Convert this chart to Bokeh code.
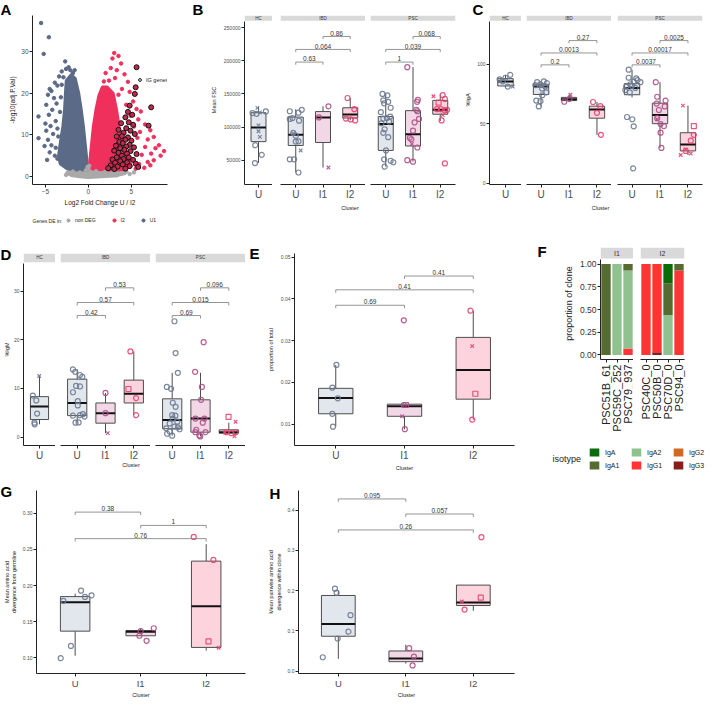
import math
from bokeh.plotting import figure
from bokeh.models import (Range1d, FixedTicker, Label, Legend, LegendItem, GridBox, Spacer,
                          ColumnDataSource, BoxAnnotation, PrintfTickFormatter)
from bokeh.layouts import row, column
from bokeh.core.properties import value, field
from bokeh.embed import file_html
from bokeh.resources import INLINE

FONT = "Liberation Sans"
clusters = ["U", "I1", "I2"]

# ---------------- Panel A (volcano) ----------------
A_grey_core_x = [-2.6, -2.0, -1.0, 0.0, 1.5, 3.0, 4.2, 4.6, 4.0, 2.0, 0.4, 0.0, -0.4, -2.0]
A_grey_core_y = [0.9, 0.2, -0.1, -0.3, -0.1, 0.1, 0.6, 1.2, 1.6, 1.5, 2.3, 2.8, 2.3, 1.7]
A_u1_core_x = [-2.6, -2.0, -1.5, -1.1, -0.8, -0.55, -0.35, -0.2, -0.05, 0.0, -1.2, -2.5, -3.3, -3.5, -3.3, -3.0, -2.8, -2.7]
A_u1_core_y = [23.0, 24.5, 23.5, 20.0, 16.0, 12.0, 8.0, 5.0, 2.2, 1.6, 1.5, 1.8, 3.0, 5.0, 8.0, 12.0, 16.0, 20.0]
A_i2_core_x = [0.05, 0.2, 0.35, 0.55, 0.85, 1.2, 1.6, 2.2, 2.9, 3.3, 3.6, 4.0, 4.6, 5.0, 4.2, 2.0]
A_i2_core_y = [1.8, 5.0, 8.0, 12.0, 16.0, 19.5, 21.5, 21.5, 20.0, 16.0, 12.0, 8.0, 5.0, 2.5, 1.6, 1.5]
A_grey_x = [-2.6, -2.2, -1.8, -1.5, -1.0, -0.6, -0.3, 0.0, 0.2, 0.5, 0.9, 1.4, 1.9, 2.4, 2.9, 3.3, 3.8, 4.3, 4.8, 5.3, 0.1, -0.1]
A_grey_y = [0.4, 0.8, 1.2, 0.5, 1.0, 0.3, 1.5, 2.0, 1.2, 0.4, 1.3, 0.7, 1.1, 0.5, 1.0, 0.3, 0.8, 1.2, 0.6, 1.0, 2.6, 2.3]
A_u1_x = [-5.5, -4.6, -5.2, -2.7, -5.8, -5.8, -4.5, -4.3, -4.7, -4.0, -4.9, -3.9, -3.6, -3.7, -4.2, -4.6, -5.0, -4.4, -3.8, -4.9, -4.1, -3.5, -4.7, -4.3, -3.8, -5.1, -4.5, -3.9, -3.6, -4.8, -3.4, -3.1, -2.6, -2.1, -2.3, -1.8, -3.2, -3.3, -3.6, -3.2, -3.0, -1.6, -3.1, -2.9]
A_u1_y = [36.8, 33.4, 29.4, 27.6, 14.4, 9.2, 21.0, 20.5, 19.6, 18.8, 17.2, 22.5, 21.8, 17.5, 16.0, 14.8, 12.7, 12.1, 13.3, 11.0, 10.2, 9.6, 8.8, 7.5, 6.9, 7.3, 5.8, 5.0, 4.3, 4.0, 24.0, 25.2, 25.8, 25.5, 26.2, 24.8, 19.0, 15.5, 11.5, 6.2, 3.5, 25.5, 22.0, 23.8]
A_i2_x = [3.0, 3.5, 2.8, 3.8, 2.6, 3.3, 2.0, 4.2, 3.1, 2.4, 4.6, 1.8, 3.9, 4.8, 3.5, 5.2, 4.4, 5.6, 6.1, 4.9, 5.8, 6.6, 5.3, 7.2, 6.0, 7.6, 6.9, 5.7, 8.2, 7.8, 6.6, 8.8, 7.3, 6.2, 7.6, 6.9, 5.9, 7.2, 6.5, 5.5, 8.4]
A_i2_y = [29.6, 28.9, 28.3, 27.1, 26.0, 25.5, 24.8, 24.5, 23.6, 23.0, 22.7, 22.8, 21.0, 20.3, 19.6, 18.0, 17.2, 16.2, 15.6, 14.6, 13.7, 12.5, 12.0, 11.1, 10.7, 9.5, 8.9, 9.3, 7.5, 6.8, 7.1, 6.1, 5.5, 5.2, 3.9, 3.5, 3.0, 2.7, 2.1, 1.9, 5.0]
A_ig_x = [5.6, 5.5, 5.4, 7.3, 7.0, 4.8, 4.6, 5.1, 4.3, 4.7, 5.2, 3.8, 4.4, 4.9, 3.5, 4.1, 5.4, 3.9, 4.6, 3.3, 4.3, 5.0, 3.6, 4.0, 4.8, 3.2, 4.4, 5.3, 3.7, 4.2, 4.9, 3.0, 3.5, 4.5, 5.6, 3.9, 4.7, 3.3, 4.1, 5.2, 2.8, 3.7, 4.5, 3.1, 5.5, 4.0, 2.6, 4.8, 3.4, 5.8, 2.3, 4.3, 3.0]
A_ig_y = [26.2, 21.4, 19.8, 16.6, 12.2, 17.0, 15.5, 14.8, 14.2, 13.0, 12.4, 12.8, 11.6, 11.0, 11.2, 10.5, 10.2, 9.7, 9.4, 9.6, 8.8, 8.6, 8.3, 8.0, 7.6, 7.4, 7.2, 7.0, 6.8, 6.4, 6.1, 6.2, 5.7, 5.5, 5.4, 5.0, 4.6, 4.6, 4.2, 4.0, 4.1, 3.7, 3.4, 3.3, 3.1, 2.9, 2.7, 2.5, 2.4, 2.3, 2.0, 1.9, 1.8]
A_legend_labels = ["non DEG", "I2", "U1"]

# ---------------- Panel B (Mean FSC) ----------------
B_HC_U_v = [129000, 121000, 120000, 122000, 123500, 102500, 93600, 85100, 72700, 58000, 45600]
B_HC_U_m = "xooxoxxxooo"
B_HC_U_j = [-0.04, -0.22, -0.07, 0.05, 0.27, 0.0, 0.0, 0.05, -0.12, 0.12, -0.13]
B_HC_U_box = [46000, 78000, 99350, 121570, 130000]
B_IBD_U_v = [123800, 126000, 121600, 112200, 113600, 109600, 91300, 86900, 78000, 78500, 90500, 64700, 51300, 51300, 31400]
B_IBD_U_m = "ooooooooooxxooo"
B_IBD_U_j = [-0.22, 0.22, 0.10, -0.22, -0.12, 0.12, -0.09, 0.0, 0.0, 0.10, -0.09, 0.18, -0.22, -0.06, 0.10]
B_IBD_U_box = [31400, 72200, 88200, 115000, 126900]
B_IBD_I1_v = [131300, 114500, 38900]
B_IBD_I1_m = "oox"
B_IBD_I1_j = [0.2, -0.15, 0.2]
B_IBD_I1_box = [38900, 76700, 114500, 123350, 131300]
B_IBD_I2_v = [143800, 126900, 112700, 110000, 111500]
B_IBD_I2_m = "ooooo"
B_IBD_I2_j = [-0.1, 0.15, -0.16, 0.18, 0.02]
B_IBD_I2_box = [110000, 113600, 118900, 129100, 143800]
B_PSC_U_v = [150000, 147800, 140200, 138000, 135800, 129100, 122500, 115800, 113600, 112700, 108200, 105600, 96700, 91300, 84700, 64700, 51300, 49100, 46900, 40200]
B_PSC_U_m = "oooooooooooooooooooo"
B_PSC_U_j = [-0.12, 0.06, -0.09, 0.09, -0.06, 0.18, -0.18, 0.16, 0.04, -0.09, 0.12, -0.16, -0.04, -0.09, 0.09, 0.01, -0.06, 0.18, 0.28, -0.04]
B_PSC_U_box = [40200, 64700, 104700, 115800, 150400]
B_PSC_I1_v = [190400, 141100, 138000, 126000, 123800, 112200, 106900, 94500, 83800, 81600, 74500, 69100, 50000, 47800]
B_PSC_I1_m = "ooooooooooxooo"
B_PSC_I1_j = [-0.21, 0.18, 0.15, 0.12, 0.16, 0.22, 0.06, 0.0, -0.12, -0.06, -0.04, 0.16, -0.21, 0.0]
B_PSC_I1_box = [47800, 71400, 89100, 124700, 190400]
B_PSC_I2_v = [146500, 148200, 142400, 136700, 126900, 126900, 125100, 126000, 118000, 110000, 45100]
B_PSC_I2_m = "xoosooooxoo"
B_PSC_I2_j = [-0.25, 0.09, 0.17, -0.06, -0.12, 0.02, 0.17, 0.25, 0.09, 0.05, 0.17]
B_PSC_I2_box = [109100, 119300, 126000, 140200, 149100]
B_brk_y = [198000, 217100, 236700]
B_IBD_p = ["0.63", "0.064", "0.86"]
B_PSC_p = ["1", "0.039", "0.068"]

# ---------------- Panel C (%IgA) ----------------
C_HC_U_v = [90.9, 88.5, 87.2, 85.5, 81.1, 81.1]
C_HC_U_m = "ooooox"
C_HC_U_j = [0.17, 0.0, -0.21, -0.1, 0.08, 0.26]
C_HC_U_box = [80.3, 81.6, 85.3, 87.7, 90.9]
C_IBD_U_v = [85.5, 84.8, 84.0, 83.0, 82.3, 81.1, 79.4, 76.2, 73.7, 69.3, 68.8, 64.4]
C_IBD_U_m = "oooooooooooo"
C_IBD_U_j = [0.1, -0.14, 0.21, -0.02, -0.2, 0.15, 0.04, 0.19, 0.04, -0.17, -0.02, -0.08]
C_IBD_U_box = [64.4, 74.4, 81.1, 83.0, 85.5]
C_IBD_I1_v = [74.2, 68.3, 70.8]
C_IBD_I1_m = "xoo"
C_IBD_I1_j = [0.05, -0.17, 0.02]
C_IBD_I1_box = [68.3, 69.3, 70.5, 72.0, 74.2]
C_IBD_I2_v = [68.1, 64.6, 59.0, 40.5]
C_IBD_I2_m = "oooo"
C_IBD_I2_j = [-0.14, 0.12, 0.0, 0.14]
C_IBD_I2_box = [40.5, 54.5, 61.9, 64.6, 68.1]
C_PSC_U_v = [95.3, 88.5, 88.0, 85.3, 86.5, 84.8, 83.0, 81.1, 81.6, 78.1, 76.2, 79.9, 55.5, 53.6, 47.7, 12.3]
C_PSC_U_m = "oooooooooooooooo"
C_PSC_U_j = [-0.12, -0.12, 0.15, 0.06, 0.2, 0.3, -0.06, -0.21, 0.0, -0.24, -0.08, 0.12, -0.18, 0.01, 0.06, 0.04]
C_PSC_U_box = [72.0, 74.2, 79.9, 83.5, 95.3]
C_PSC_I1_v = [84.8, 72.5, 69.3, 66.8, 64.4, 61.4, 54.5, 53.6, 49.6, 47.9, 42.3, 29.5]
C_PSC_I1_m = "oooooooxoooo"
C_PSC_I1_j = [-0.15, -0.1, 0.2, -0.12, 0.17, -0.04, -0.1, -0.1, 0.02, 0.14, 0.02, 0.05]
C_PSC_I1_box = [29.5, 49.9, 57.2, 67.1, 84.8]
C_PSC_I2_v = [65.1, 47.9, 40.5, 35.6, 28.3, 23.6, 24.8, 27.0]
C_PSC_I2_m = "xsooxxxo"
C_PSC_I2_j = [-0.18, 0.21, 0.21, 0.1, -0.08, -0.26, 0.1, -0.08]
C_PSC_I2_box = [23.6, 27.0, 32.4, 42.3, 65.1]
C_brk_y = [99.3, 109.3, 119.7]
C_IBD_p = ["0.2", "0.0013", "0.27"]
C_PSC_p = ["0.0037", "0.00017", "0.0025"]

# ---------------- Panel D (%IgM) ----------------
D_HC_U_v = [12.55, 8.52, 7.52, 4.83, 2.95, 2.62]
D_HC_U_m = "xooooo"
D_HC_U_j = [-0.01, -0.25, -0.12, -0.09, -0.19, -0.18]
D_HC_U_box = [2.62, 3.6, 6.3, 8.3, 12.55]
D_IBD_U_v = [13.9, 13.4, 12.75, 12.35, 10.5, 10.4, 9.2, 7.4, 6.5, 4.4, 4.5, 4.7, 4.2, 2.95, 3.0]
D_IBD_U_m = "ooooooooooooooo"
D_IBD_U_j = [-0.15, -0.07, 0.1, 0.18, -0.04, 0.1, -0.15, 0.02, 0.02, -0.15, 0.1, 0.2, 0.26, -0.06, 0.05]
D_IBD_U_box = [2.95, 4.4, 7.0, 11.9, 13.9]
D_IBD_I1_v = [9.06, 4.9, 0.8]
D_IBD_I1_m = "oox"
D_IBD_I1_j = [0.0, 0.0, 0.08]
D_IBD_I1_box = [0.8, 2.85, 4.9, 7.0, 9.06]
D_IBD_I2_v = [17.6, 9.87, 8.0, 4.5]
D_IBD_I2_m = "osoo"
D_IBD_I2_j = [-0.12, -0.19, 0.08, 0.08]
D_IBD_I2_box = [4.5, 7.0, 8.9, 11.7, 17.6]
D_PSC_U_v = [23.8, 17.25, 13.2, 10.3, 9.9, 7.05, 6.2, 4.5, 4.4, 3.8, 3.15, 2.8, 2.15, 1.8, 2.0, 1.14, 0.67, 0.27, 1.6]
D_PSC_U_m = "ooooooooooooooooooo"
D_PSC_U_j = [0.08, 0.12, 0.2, -0.19, -0.04, 0.02, 0.12, 0.0, 0.11, 0.02, 0.18, -0.09, 0.08, -0.21, 0.2, -0.09, -0.18, 0.0, 0.26]
D_PSC_U_box = [0.27, 1.7, 3.5, 7.85, 13.2]
D_PSC_I1_v = [19.5, 13.4, 10.3, 7.65, 3.8, 3.8, 1.5, 1.0, 1.0, 0.34, 0.13, 2.95]
D_PSC_I1_m = "oooooooooooo"
D_PSC_I1_j = [0.11, -0.19, 0.05, 0.02, -0.18, 0.14, -0.15, -0.18, 0.18, -0.04, -0.01, 0.08]
D_PSC_I1_box = [0.13, 1.0, 3.8, 7.65, 13.2]
D_PSC_I2_v = [4.16, 3.15, 1.0, 0.13, 1.0, 0.94, 0.8]
D_PSC_I2_m = "sxoxoxo"
D_PSC_I2_j = [-0.01, 0.24, -0.09, 0.2, 0.24, -0.13, 0.09]
D_PSC_I2_box = [0.6, 0.8, 1.0, 1.48, 2.95]
D_brk_y = [24.97, 27.65, 30.67]
D_IBD_p = ["0.42", "0.57", "0.53"]
D_PSC_p = ["0.69", "0.015", "0.096"]

# ---------------- Panel E (proportion of total) ----------------
E_U_v = [0.0242, 0.01875, 0.0162, 0.0125, 0.0094]
E_U_m = "ooooo"
E_U_j = [0.01, -0.05, 0.03, -0.05, -0.04]
E_U_box = [0.0094, 0.0125, 0.0163, 0.0186, 0.0242]
E_I1_v = [0.0349, 0.0146, 0.0146, 0.0119, 0.0088]
E_I1_m = "oosxo"
E_I1_j = [-0.01, -0.01, 0.02, -0.035, 0.005]
E_I1_box = [0.0088, 0.0119, 0.0143, 0.0148, 0.0148]
E_I2_v = [0.0372, 0.0287, 0.0173, 0.0111]
E_I2_m = "oxso"
E_I2_j = [-0.04, -0.015, 0.03, -0.015]
E_I2_box = [0.0111, 0.0160, 0.0230, 0.0308, 0.0372]
E_brk_pairs = [(1, 2), (1, 3), (2, 3)]
E_brk_y = [0.0385, 0.0422, 0.0455]
E_brk_p = ["0.69", "0.41", "0.41"]

# ---------------- Panel F (isotype proportions) ----------------
isotypes = ["IgA", "IgA1", "IgA2", "IgG1", "IgG2", "IgG3"]
F_I1_clones = ["PSC51B_61", "PSC59C_252", "PSC79_937"]
F_I1_IgA = [0.0, 0.0, 0.0]
F_I1_IgA1 = [1.0, 0.0, 0.07]
F_I1_IgA2 = [0.0, 1.0, 0.86]
F_I1_IgG1 = [0.0, 0.0, 0.07]
F_I1_IgG2 = [0.0, 0.0, 0.0]
F_I1_IgG3 = [0.0, 0.0, 0.0]
F_I2_clones = ["PSC40C_0", "PSC50B_0", "PSC70D_0", "PSC94_0"]
F_I2_IgA = [0.0, 0.0, 0.21, 0.0]
F_I2_IgA1 = [0.0, 0.0, 0.35, 0.07]
F_I2_IgA2 = [0.0, 0.0, 0.44, 0.0]
F_I2_IgG1 = [1.0, 0.97, 0.0, 0.93]
F_I2_IgG2 = [0.0, 0.0, 0.0, 0.0]
F_I2_IgG3 = [0.0, 0.03, 0.0, 0.0]

# ---------------- Panel G ----------------
G_U_v = [0.179, 0.193, 0.1844, 0.1866, 0.1165, 0.0996]
G_U_m = "oooooo"
G_U_j = [-0.18, 0.09, 0.15, 0.25, -0.065, -0.22]
G_U_box = [0.103, 0.137, 0.177, 0.1848, 0.189]
G_I1_v = [0.1306, 0.1236, 0.141, 0.137]
G_I1_m = "oooo"
G_I1_j = [-0.02, 0.09, 0.2, 0.0]
G_I1_box = [0.1306, 0.1306, 0.1362, 0.1379, 0.141]
G_I2_v = [0.2673, 0.2355, 0.1228, 0.114]
G_I2_m = "oosx"
G_I2_j = [-0.19, 0.11, 0.035, 0.19]
G_I2_box = [0.1101, 0.1145, 0.1714, 0.2339, 0.2573]
G_brk_pairs = [(1, 2), (2, 3), (1, 3)]
G_brk_y = [0.3017, 0.2833, 0.265]
G_brk_p = ["0.38", "1", "0.76"]

# ---------------- Panel H ----------------
H_U_v = [0.205, 0.195, 0.139, 0.098, 0.081, 0.0344]
H_U_m = "oooooo"
H_U_j = [-0.05, -0.025, 0.18, 0.15, -0.01, -0.23]
H_U_box = [0.0304, 0.0866, 0.117, 0.188, 0.200]
H_I1_v = [0.057, 0.036, 0.014]
H_I1_m = "ooo"
H_I1_j = [0.05, 0.12, 0.1]
H_I1_box = [0.0187, 0.0234, 0.0313, 0.050, 0.0655]
H_I2_v = [0.333, 0.173, 0.1825, 0.153]
H_I2_m = "oxso"
H_I2_j = [0.12, -0.17, 0.11, -0.13]
H_I2_box = [0.150, 0.163, 0.1708, 0.2138, 0.2138]
H_brk_pairs = [(1, 2), (2, 3), (1, 3)]
H_brk_y = [0.428, 0.3906, 0.351]
H_brk_p = ["0.095", "0.057", "0.26"]

# ================= styling & helpers =================
MK = {"o": "circle", "x": "x", "s": "square"}
PT = {"U": "#6d7a91", "I1": "#b04e86", "I2": "#e8426f"}
BX = {"U": "#e2e7ee", "I1": "#f2d8e6", "I2": "#fdd3de"}
ISO_COL = {"IgA": "#0b6b0b", "IgA1": "#566b2f", "IgA2": "#8fc28f",
           "IgG1": "#ff3535", "IgG2": "#d2691e", "IgG3": "#8b1c1c"}
STACK = ["IgG3", "IgG2", "IgG1", "IgA2", "IgA1", "IgA"]
AX = "#222222"
GEO = {}


def mkfig(w, h, l, r, t, b, xr, yr, strip=0, gap=0, yaxis=True, xaxis=True):
    ylo, yhi = yr
    fh = h - t - b
    upp = (yhi - ylo) / (fh - strip - gap)
    yend = yhi + (strip + gap) * upp
    p = figure(width=w, height=h, x_range=Range1d(xr[0], xr[1]), y_range=Range1d(ylo, yend),
               min_border_left=l, min_border_right=r, min_border_top=t, min_border_bottom=b,
               x_axis_location="below" if xaxis else None,
               y_axis_location="left" if yaxis else None,
               output_backend="svg", toolbar_location=None)
    p.outline_line_color = None
    p.background_fill_color = "white"
    p.border_fill_color = "white"
    p.xgrid.visible = False
    p.ygrid.visible = False
    for ax in p.axis:
        ax.axis_line_color = AX
        ax.axis_line_width = 1
        ax.major_tick_line_color = AX
        ax.major_tick_out = 3
        ax.major_tick_in = 0
        ax.minor_tick_line_color = None
        ax.major_label_text_font = FONT
        ax.major_label_text_color = "#4d4d4d"
        ax.major_label_standoff = 1
        ax.axis_label_text_font = FONT
        ax.axis_label_text_font_style = "normal"
        ax.axis_label_text_color = AX
        ax.axis_label_standoff = 2
    if yaxis:
        p.yaxis.bounds = (ylo, yhi)
    GEO[p.id] = dict(upp=upp, yhi=yhi, strip=strip, gap=gap, xr=xr)
    return p


def add_strip(p, text, size):
    g = GEO[p.id]
    upp = g["upp"]
    b0 = g["yhi"] + g["gap"] * upp
    t0 = b0 + g["strip"] * upp
    p.add_layout(BoxAnnotation(left=g["xr"][0], right=g["xr"][1], bottom=b0, top=t0,
                               fill_color="#d9d9d9", fill_alpha=1.0, line_color=None))
    p.add_layout(Label(x=(g["xr"][0] + g["xr"][1]) / 2, y=(b0 + t0) / 2, text=text,
                       text_align="center", text_baseline="middle", text_font=FONT,
                       text_font_size=f"{size}px", text_color="#333333"))


def xcats(p, labels, fs):
    p.xaxis.ticker = FixedTicker(ticks=list(range(1, len(labels) + 1)))
    p.xaxis.major_label_overrides = {i + 1: lab for i, lab in enumerate(labels)}
    p.xaxis.major_label_text_font_size = f"{fs}px"


def yaxis_setup(p, ticks, fmt, fs, label=None, lfs=5.5, standoff=2):
    p.yaxis.ticker = FixedTicker(ticks=ticks)
    p.yaxis.formatter = PrintfTickFormatter(format=fmt)
    p.yaxis.major_label_text_font_size = f"{fs}px"
    if label:
        p.yaxis.axis_label = label
        p.yaxis.axis_label_text_font_size = f"{lfs}px"
        p.yaxis.axis_label_standoff = standoff


def group(p, x, box, vals, marks, jit, key, w=0.5):
    lo, q1, med, q3, hi = box
    p.segment(x0=[x, x], y0=[lo, q3], x1=[x, x], y1=[q1, hi], line_color="#4d4d4d", line_width=1)
    p.vbar(x=[x], width=w, bottom=[q1], top=[q3], fill_color=BX[key], line_color="#4d4d4d", line_width=1)
    p.segment(x0=[x - w / 2], y0=[med], x1=[x + w / 2], y1=[med], line_color="#111111", line_width=2)
    src = ColumnDataSource(dict(x=[x + j for j in jit], y=vals, m=[MK[c] for c in marks]))
    p.scatter("x", "y", marker=field("m"), source=src, size=5, fill_color=None,
              line_color=PT[key], line_width=1.2, line_alpha=0.9)


def brackets(p, pairs, ys, labels, fs=6.5):
    upp = GEO[p.id]["upp"]
    tip = 3 * upp
    for (a, b), y, lab in zip(pairs, ys, labels):
        p.segment(x0=[a, a, b], y0=[y, y, y], x1=[b, a, b], y1=[y, y - tip, y - tip],
                  line_color="#7a7a7a", line_width=0.8)
        p.text(x=[(a + b) / 2], y=[y + upp], text=[lab], text_align="center", text_baseline="bottom",
               text_font=value(FONT), text_font_size=value(f"{fs}px"), text_color="#333333")


def style_legend(lg, gw, gh, fs, spacing):
    lg.background_fill_alpha = 0
    lg.border_line_color = None
    lg.padding = 0
    lg.margin = 0
    lg.spacing = spacing
    lg.glyph_width = gw
    lg.glyph_height = gh
    lg.label_height = gh
    lg.label_width = 0
    lg.label_standoff = 3
    lg.label_text_font = FONT
    lg.label_text_font_size = f"{fs}px"
    lg.label_text_color = "#222222"


PAIRS3 = [(1, 2), (1, 3), (2, 3)]

# ================= Panel A =================
A = mkfig(172, 235, 32, 5, 15, 51, (-6.5, 9.2), (-1.9, 38.6))
A.yaxis.bounds = "auto"
A.patch(A_grey_core_x, A_grey_core_y, fill_color="#a9a9a9", line_color="#a9a9a9", line_width=2.5)
A.patch(A_u1_core_x, A_u1_core_y, fill_color="#5b6a86", line_color="#5b6a86", line_width=2.5)
A.patch(A_i2_core_x, A_i2_core_y, fill_color="#f0305c", line_color="#f0305c", line_width=2.5)
src_grey = ColumnDataSource(dict(x=A_grey_x, y=A_grey_y))
src_u1 = ColumnDataSource(dict(x=A_u1_x, y=A_u1_y))
src_i2 = ColumnDataSource(dict(x=A_i2_x, y=A_i2_y))
src_ig = ColumnDataSource(dict(x=A_ig_x, y=A_ig_y))
A.scatter("x", "y", source=src_grey, size=3.5, color="#a9a9a9")
A.scatter("x", "y", source=src_u1, size=3.5, color="#5b6a86")
A.scatter("x", "y", source=src_i2, size=3.5, color="#f0305c")
A.scatter("x", "y", source=src_ig, size=5, fill_color="#c3284d", line_color="#111111", line_width=1)
rig = A.scatter("x", "y", source=src_ig, size=5, fill_color=None, line_color="#111111",
                line_width=1, visible=False)
A.xaxis.ticker = FixedTicker(ticks=[-5, 0, 5])
A.yaxis.ticker = FixedTicker(ticks=[0, 10, 20, 30])
A.xaxis.major_label_text_font_size = "6.5px"
A.yaxis.major_label_text_font_size = "6.5px"
A.xaxis.axis_label = "Log2 Fold Change U / I2"
A.yaxis.axis_label = "-log10(adj.P.Val)"
A.xaxis.axis_label_text_font_size = "6.5px"
A.yaxis.axis_label_text_font_size = "6.5px"
legIG = Legend(items=[LegendItem(label="IG genes", renderers=[rig])], location=(104, 101))
style_legend(legIG, 7, 7, 5.5, 2)
A.add_layout(legIG, "center")

# ================= Panel B =================
B_yr = (13300, 259000)
B_HC = mkfig(100, 235, 72, 0, 2, 41, (0.485, 1.515), B_yr, strip=6, gap=1)
B_IBD = mkfig(93, 235, 8, 0, 2, 41, (0.44, 3.56), B_yr, strip=6, gap=1, yaxis=False)
B_PSC = mkfig(97, 235, 5, 7, 2, 41, (0.44, 3.56), B_yr, strip=6, gap=1, yaxis=False)
for p, s in ((B_HC, "HC"), (B_IBD, "IBD"), (B_PSC, "PSC")):
    add_strip(p, s, 4.5)
yaxis_setup(B_HC, [50000, 100000, 150000, 200000, 250000], "%d", 5, "Mean FSC", 5.5, 4)
xcats(B_HC, ["U"], 10)
xcats(B_IBD, clusters, 10)
xcats(B_PSC, clusters, 10)
BW = 0.55
group(B_HC, 1, B_HC_U_box, B_HC_U_v, B_HC_U_m, B_HC_U_j, "U", BW)
group(B_IBD, 1, B_IBD_U_box, B_IBD_U_v, B_IBD_U_m, B_IBD_U_j, "U", BW)
group(B_IBD, 2, B_IBD_I1_box, B_IBD_I1_v, B_IBD_I1_m, B_IBD_I1_j, "I1", BW)
group(B_IBD, 3, B_IBD_I2_box, B_IBD_I2_v, B_IBD_I2_m, B_IBD_I2_j, "I2", BW)
group(B_PSC, 1, B_PSC_U_box, B_PSC_U_v, B_PSC_U_m, B_PSC_U_j, "U", BW)
group(B_PSC, 2, B_PSC_I1_box, B_PSC_I1_v, B_PSC_I1_m, B_PSC_I1_j, "I1", BW)
group(B_PSC, 3, B_PSC_I2_box, B_PSC_I2_v, B_PSC_I2_m, B_PSC_I2_j, "I2", BW)
brackets(B_IBD, PAIRS3, B_brk_y, B_IBD_p)
brackets(B_PSC, PAIRS3, B_brk_y, B_PSC_p)

# ================= Panel C =================
C_yr = (-1.2, 135.6)
C_HC = mkfig(59, 235, 27, 0, 2, 41, (0.43, 1.57), C_yr, strip=6, gap=1)
C_IBD = mkfig(90, 235, 5, 0, 2, 41, (0.48, 3.52), C_yr, strip=6, gap=1, yaxis=False)
C_PSC = mkfig(95, 235, 6, 4, 2, 41, (0.48, 3.52), C_yr, strip=6, gap=1, yaxis=False)
for p, s in ((C_HC, "HC"), (C_IBD, "IBD"), (C_PSC, "PSC")):
    add_strip(p, s, 4.5)
yaxis_setup(C_HC, [0, 50, 100], "%d", 5, "%IgA", 5.5, 3)
xcats(C_HC, ["U"], 10)
xcats(C_IBD, clusters, 10)
xcats(C_PSC, clusters, 10)
CW = 0.55
group(C_HC, 1, C_HC_U_box, C_HC_U_v, C_HC_U_m, C_HC_U_j, "U", CW)
group(C_IBD, 1, C_IBD_U_box, C_IBD_U_v, C_IBD_U_m, C_IBD_U_j, "U", CW)
group(C_IBD, 2, C_IBD_I1_box, C_IBD_I1_v, C_IBD_I1_m, C_IBD_I1_j, "I1", CW)
group(C_IBD, 3, C_IBD_I2_box, C_IBD_I2_v, C_IBD_I2_m, C_IBD_I2_j, "I2", CW)
group(C_PSC, 1, C_PSC_U_box, C_PSC_U_v, C_PSC_U_m, C_PSC_U_j, "U", CW)
group(C_PSC, 2, C_PSC_I1_box, C_PSC_I1_v, C_PSC_I1_m, C_PSC_I1_j, "I1", CW)
group(C_PSC, 3, C_PSC_I2_box, C_PSC_I2_v, C_PSC_I2_m, C_PSC_I2_j, "I2", CW)
brackets(C_IBD, PAIRS3, C_brk_y, C_IBD_p)
brackets(C_PSC, PAIRS3, C_brk_y, C_PSC_p)

# ================= Panel D =================
D_yr = (-1.74, 35.7)
D_HC = mkfig(55, 238, 21, 0, 18, 25, (0.4, 1.6), D_yr, strip=9, gap=1)
D_IBD = mkfig(95, 238, 5, 0, 18, 25, (0.41, 3.59), D_yr, strip=9, gap=1, yaxis=False)
D_PSC = mkfig(95, 238, 5, 0, 18, 25, (0.41, 3.59), D_yr, strip=9, gap=1, yaxis=False)
for p, s in ((D_HC, "HC"), (D_IBD, "IBD"), (D_PSC, "PSC")):
    add_strip(p, s, 4.5)
yaxis_setup(D_HC, [0, 10, 20, 30], "%d", 5, "%IgM", 5.5, 1)
xcats(D_HC, ["U"], 10)
xcats(D_IBD, clusters, 10)
xcats(D_PSC, clusters, 10)
DW = 0.68
group(D_HC, 1, D_HC_U_box, D_HC_U_v, D_HC_U_m, D_HC_U_j, "U", DW)
group(D_IBD, 1, D_IBD_U_box, D_IBD_U_v, D_IBD_U_m, D_IBD_U_j, "U", DW)
group(D_IBD, 2, D_IBD_I1_box, D_IBD_I1_v, D_IBD_I1_m, D_IBD_I1_j, "I1", DW)
group(D_IBD, 3, D_IBD_I2_box, D_IBD_I2_v, D_IBD_I2_m, D_IBD_I2_j, "I2", DW)
group(D_PSC, 1, D_PSC_U_box, D_PSC_U_v, D_PSC_U_m, D_PSC_U_j, "U", DW)
group(D_PSC, 2, D_PSC_I1_box, D_PSC_I1_v, D_PSC_I1_m, D_PSC_I1_j, "I1", DW)
group(D_PSC, 3, D_PSC_I2_box, D_PSC_I2_v, D_PSC_I2_m, D_PSC_I2_j, "I2", DW)
brackets(D_IBD, PAIRS3, D_brk_y, D_IBD_p)
brackets(D_PSC, PAIRS3, D_brk_y, D_PSC_p)

# ================= Panel E =================
E = mkfig(290, 238, 49, 21, 15, 25, (0.4, 3.6), (0.0049, 0.0509))
yaxis_setup(E, [0.01, 0.02, 0.03, 0.04, 0.05], "%.2f", 5, "proportion of total", 5.5, 4)
xcats(E, clusters, 10)
E.xaxis.axis_label = "Cluster"
E.xaxis.axis_label_text_font_size = "5.5px"
E.xaxis.axis_label_standoff = 1
group(E, 1, E_U_box, E_U_v, E_U_m, E_U_j, "U", 0.5)
group(E, 2, E_I1_box, E_I1_v, E_I1_m, E_I1_j, "I1", 0.5)
group(E, 3, E_I2_box, E_I2_v, E_I2_m, E_I2_j, "I2", 0.5)
brackets(E, E_brk_pairs, E_brk_y, E_brk_p)


# ================= Panel F =================
def ffacet(w, l, r, clones, fr, stext, yaxis):
    p = mkfig(w, 203, l, r, 12, 79, (0.5, len(clones) + 0.5), (-0.05, 1.05), strip=11, gap=1, yaxis=yaxis)
    add_strip(p, stext, 7)
    src = ColumnDataSource(dict(x=list(range(1, len(clones) + 1)), **fr))
    p.vbar_stack(STACK, x="x", width=0.85, source=src,
                 fill_color=[ISO_COL[s] for s in STACK], line_color=None)
    xcats(p, clones, 11)
    p.xaxis.major_label_orientation = math.pi / 2
    p.xaxis.major_label_text_color = "#222222"
    p.xaxis.major_label_standoff = 2
    if yaxis:
        yaxis_setup(p, [0, 0.25, 0.5, 0.75, 1.0], "%.2f", 8.5, "proportion of clone", 9, 3)
        p.yaxis.major_label_text_color = "#333333"
    return p, src


F1, srcF1 = ffacet(98, 65, 0, F_I1_clones,
                   dict(IgA=F_I1_IgA, IgA1=F_I1_IgA1, IgA2=F_I1_IgA2, IgG1=F_I1_IgG1, IgG2=F_I1_IgG2, IgG3=F_I1_IgG3),
                   "I1", True)
F2, srcF2 = ffacet(73, 7, 22, F_I2_clones,
                   dict(IgA=F_I2_IgA, IgA1=F_I2_IgA1, IgA2=F_I2_IgA2, IgG1=F_I2_IgG1, IgG2=F_I2_IgG2, IgG3=F_I2_IgG3),
                   "I2", False)

# ================= Panel G =================
G = mkfig(265, 227, 33, 20, 17, 22, (0.41, 3.6), (0.0784, 0.3316))
yaxis_setup(G, [0.10, 0.15, 0.20, 0.25, 0.30], "%.2f", 5, "Mean amino acid\ndivergence from germline", 5.5, 3)
xcats(G, clusters, 9.5)
G.xaxis.axis_label = "Cluster"
G.xaxis.axis_label_text_font_size = "5.5px"
G.xaxis.axis_label_standoff = 0
GWd = 0.45
group(G, 1, G_U_box, G_U_v, G_U_m, G_U_j, "U", GWd)
group(G, 2, G_I1_box, G_I1_v, G_I1_m, G_I1_j, "I1", GWd)
group(G, 3, G_I2_box, G_I2_v, G_I2_m, G_I2_j, "I2", GWd)
brackets(G, G_brk_pairs, G_brk_y, G_brk_p)

# ================= Panel H =================
H = mkfig(441, 227, 33, 192, 17, 22, (0.41, 3.61), (-0.006, 0.449))
yaxis_setup(H, [0.0, 0.1, 0.2, 0.3, 0.4], "%.1f", 5, "Mean pairwise amino acid\ndivergence within clone", 5.5, 3)
xcats(H, clusters, 9.5)
H.xaxis.axis_label = "Cluster"
H.xaxis.axis_label_text_font_size = "5.5px"
H.xaxis.axis_label_standoff = 0
group(H, 1, H_U_box, H_U_v, H_U_m, H_U_j, "U", 0.5)
group(H, 2, H_I1_box, H_I1_v, H_I1_m, H_I1_j, "I1", 0.5)
group(H, 3, H_I2_box, H_I2_v, H_I2_m, H_I2_j, "I2", 0.5)
brackets(H, H_brk_pairs, H_brk_y, H_brk_p)

# ================= transparent overlay: panel letters, shared titles, legends =================
OW, OH = 706, 700
ov = figure(width=OW, height=OH, x_range=Range1d(0, OW), y_range=Range1d(OH, 0),
            min_border_left=0, min_border_right=0, min_border_top=0, min_border_bottom=0,
            x_axis_location=None, y_axis_location=None, output_backend="svg", toolbar_location=None)
ov.outline_line_color = None
ov.background_fill_color = None
ov.border_fill_color = None
ov.xgrid.visible = False
ov.ygrid.visible = False


def otext(x, y, text, size, bold=False, align="left", baseline="top", color="#000000"):
    ov.add_layout(Label(x=x, y=y, text=text, text_font=FONT, text_font_size=f"{size}px",
                        text_font_style="bold" if bold else "normal", text_align=align,
                        text_baseline=baseline, text_color=color))


for letter, lx, ly in (("A", 0, 0), ("B", 192, 0), ("C", 472, 0), ("D", 0, 245), ("E", 249, 244),
                       ("F", 537, 242), ("G", 0, 482), ("H", 269, 484)):
    otext(lx, ly, letter, 15, bold=True)
for cx, cy in ((349.5, 204), (600, 204), (130.5, 461)):
    otext(cx, cy, "Cluster", 5.5, align="center", color=AX)

# legend of panel A (glyphs drawn from the same sources, hidden in the overlay)
ovg = ov.scatter("x", "y", source=src_grey, size=3.5, color="#a9a9a9", visible=False)
ovr = ov.scatter("x", "y", source=src_i2, size=3.5, color="#f0305c", visible=False)
ovb = ov.scatter("x", "y", source=src_u1, size=3.5, color="#5b6a86", visible=False)
legA = Legend(items=[LegendItem(label=lab, renderers=[r]) for lab, r in zip(A_legend_labels, [ovg, ovr, ovb])],
              orientation="horizontal", location=(64, OH - 224))
style_legend(legA, 8, 8, 5, 14)
ov.add_layout(legA, "center")
otext(32, 220, "Genes DE in:", 5, baseline="middle", color="#222222")

# legend of panel F
iso_r = [ov.vbar(x="x", top=s, width=0.5, source=srcF1, fill_color=ISO_COL[s], line_color=None, visible=False)
         for s in isotypes]
legF = Legend(items=[LegendItem(label=s, renderers=[r]) for s, r in zip(isotypes, iso_r)],
              orientation="vertical", ncols=3, location=(588, OH - 470))
style_legend(legF, 12, 10, 7, 3)
legF.label_width = 22
legF.label_standoff = 5
ov.add_layout(legF, "center")
otext(552, 458, "isotype", 9, baseline="middle", color="#222222")

# ================= layout =================
row1 = row(A, B_HC, B_IBD, B_PSC, C_HC, C_IBD, C_PSC, spacing=0)
row2 = row(D_HC, D_IBD, D_PSC, E, column(row(F1, F2, spacing=0), Spacer(width=171, height=35), spacing=0),
           spacing=0)
row3 = row(G, H, spacing=0)
layout = GridBox(children=[(row1, 0, 0), (row2, 1, 0), (row3, 2, 0), (ov, 0, 0, 3, 1)], spacing=0)

open("out.html", "w").write(file_html(layout, INLINE))
